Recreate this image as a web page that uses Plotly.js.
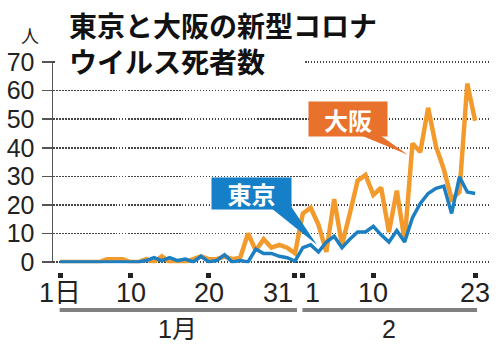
<!DOCTYPE html>
<html><head><meta charset="utf-8">
<script src="https://cdn.plot.ly/plotly-3.0.1.min.js"></script>
<style>html,body{margin:0;padding:0;background:#fff}#chart{width:500px;height:353px}</style>
</head><body><div id="chart"></div>
<script>
// day index: Jan 1 = 1 ... Jan 31 = 31, Feb 1 = 32 ... Feb 23 = 54
const days = [1,2,3,4,5,6,7,8,9,10,11,12,13,14,15,16,17,18,19,20,21,22,23,24,25,26,27,28,29,30,31,
              32,33,34,35,36,37,38,39,40,41,42,43,44,45,46,47,48,49,50,51,52,53,54];
const osaka = [0,0,0,0,0,0,1,1,1,0,0,1,0,2,0,0,0,1,2,1,1,2,1,1.5,10,4,8,5,6,5,3,
               17,19,13,3.5,22,6,17,28.5,30.5,23.5,26,10.5,25,7.5,41.5,38.5,54,40.5,32.5,22,24.5,62.5,49.5];
const tokyo = [0,0,0,0,0,0,0,0,0,0,0,0.5,1.5,0.5,1.5,0.5,1,0,2,0,0.5,2.5,0,0.5,0,4.5,3,3,2,1.5,0.3,
               5,6,3.5,7,9,5,8,10.5,10.5,12.5,9.5,7,11,7,15.5,20.5,24,25.8,26.6,17,29.8,24.5,24];
const seriesNames = ['大阪','東京'];
const seriesColors = ['#f39a2d','#1c7fc1'];
const boxColors = ['#e8712c','#1580c7'];
const tickDays = [1,10,20,31,32,41,54];
const tickLabels = ['1日','10','20','31','1','10','23'];
const tickAnchors = ['center','center','center','right','left','center','center'];
const months = ['1月','2'];
const monthStart = [1,32];
const monthEnd = [31,54];
const yTicks = [0,10,20,30,40,50,60,70];
const titleLines = ['東京と大阪の新型コロナ','ウイルス死者数'];
const unitLabel = '人';

const jp = '"Noto Sans CJK JP", sans-serif';
const num = '"Liberation Sans Narrow", "Liberation Sans", Arial, "Noto Sans CJK JP", sans-serif';
const numW = '"Liberation Sans", Arial, "Noto Sans CJK JP", sans-serif';

const traces = [
  {x: days, y: osaka, type:'scatter', mode:'lines', name: seriesNames[0],
   line:{color: seriesColors[0], width:4.5}, hoverinfo:'skip'},
  {x: days, y: tokyo, type:'scatter', mode:'lines', name: seriesNames[1],
   line:{color: seriesColors[1], width:3.5}, hoverinfo:'skip'}
];

const annotations = [];
// title (two lines)
annotations.push({xref:'paper', yref:'paper', x:0.032, y:1.086, xanchor:'left', yanchor:'middle', align:'left',
  text: titleLines.join('<br>'), showarrow:false, font:{family: jp, size:28, color:'#111', weight:700}});
annotations.push({xref:'paper', yref:'paper', x:-0.053, y:1.123, xanchor:'center', yanchor:'middle',
  text: unitLabel, showarrow:false, font:{family: jp, size:18, color:'#222'}});
// x tick labels
tickDays.forEach((d,i)=>{
  annotations.push({xref:'x', yref:'paper', x:d, y:-0.0995, xanchor:tickAnchors[i], yanchor:'middle',
    text: tickLabels[i], showarrow:false, font:{family: num, size:27, color:'#222'}});
});
// month labels
months.forEach((m,i)=>{
  annotations.push({xref:'x', yref:'paper', x:(monthStart[i]+monthEnd[i])/2, y:-0.27, xanchor:'center', yanchor:'middle',
    text: m, showarrow:false, font:{family: num, size:25, color:'#222'}});
});
// series label boxes (anchored at the point the callout points to)
const callouts = [
  {tipX:45.4, tipY:37.6, ax:-60, ay:-36, w:76, h:32, wedge:'M -58 24 L 0 0 L -34 24 Z'},
  {tipX:33.8, tipY:6, ax:-65.5, ay:-51, w:77, h:29, wedge:'M -50 40 L 0 0 L -27 40 Z'}
];
callouts.forEach((c,i)=>{
  annotations.push({xref:'x', yref:'y', x:c.tipX, y:c.tipY, ax:c.ax, ay:c.ay, text: seriesNames[i],
    showarrow:true, arrowhead:0, arrowwidth:0.1, arrowcolor:'rgba(0,0,0,0)', standoff:0,
    bgcolor: boxColors[i], width:c.w, height:c.h, font:{family: jp, size:24, color:'#fff', weight:700}});
});

const shapes = [];
// white backing behind the title over the top gridline
shapes.push({type:'rect', xref:'paper', yref:'paper', x0:0.006, x1:0.577, y0:0.955, y1:1.03,
  fillcolor:'#fff', line:{width:0}, layer:'above'});
// callout wedges
callouts.forEach((c,i)=>{
  shapes.push({type:'path', xref:'x', yref:'y', xsizemode:'pixel', ysizemode:'pixel',
    xanchor:c.tipX, yanchor:c.tipY, path:c.wedge, fillcolor: boxColors[i], line:{width:0}, layer:'above'});
});
// month bars
monthStart.forEach((s,i)=>{
  shapes.push({type:'line', xref:'x', yref:'paper', x0: s - 0.05, x1: monthEnd[i] + 0.25,
    y0:-0.18, y1:-0.18, line:{color:'#808080', width:4}});
});

const layout = {
  width:500, height:353,
  margin:{l:53, r:10, t:61, b:81},
  paper_bgcolor:'#fff', plot_bgcolor:'#fff',
  showlegend:false,
  xaxis:{range:[0.1,55.9], anchor:'free', position:0, showgrid:false, zeroline:false, showline:false,
    tickmode:'array', tickvals: tickDays, ticks:'outside', ticklen:5, tickwidth:5, tickcolor:'#222',
    showticklabels:false, fixedrange:true},
  yaxis:{range:[-0.4,70.4], domain:[0.042,1], tickmode:'array', tickvals: yTicks,
    showgrid:true, gridcolor:'#444', gridwidth:1.5, griddash:'1.5px,1.5px', zeroline:false,
    showline:true, linecolor:'#555', linewidth:1.5, ticks:'outside', ticklen:10, tickwidth:1.5, tickcolor:'#555',
    tickfont:{family: numW, size:25, color:'#222'}, ticklabelstandoff:2, fixedrange:true},
  annotations: annotations,
  shapes: shapes
};

Plotly.newPlot('chart', traces, layout, {displayModeBar:false, staticPlot:true});
</script></body></html>
